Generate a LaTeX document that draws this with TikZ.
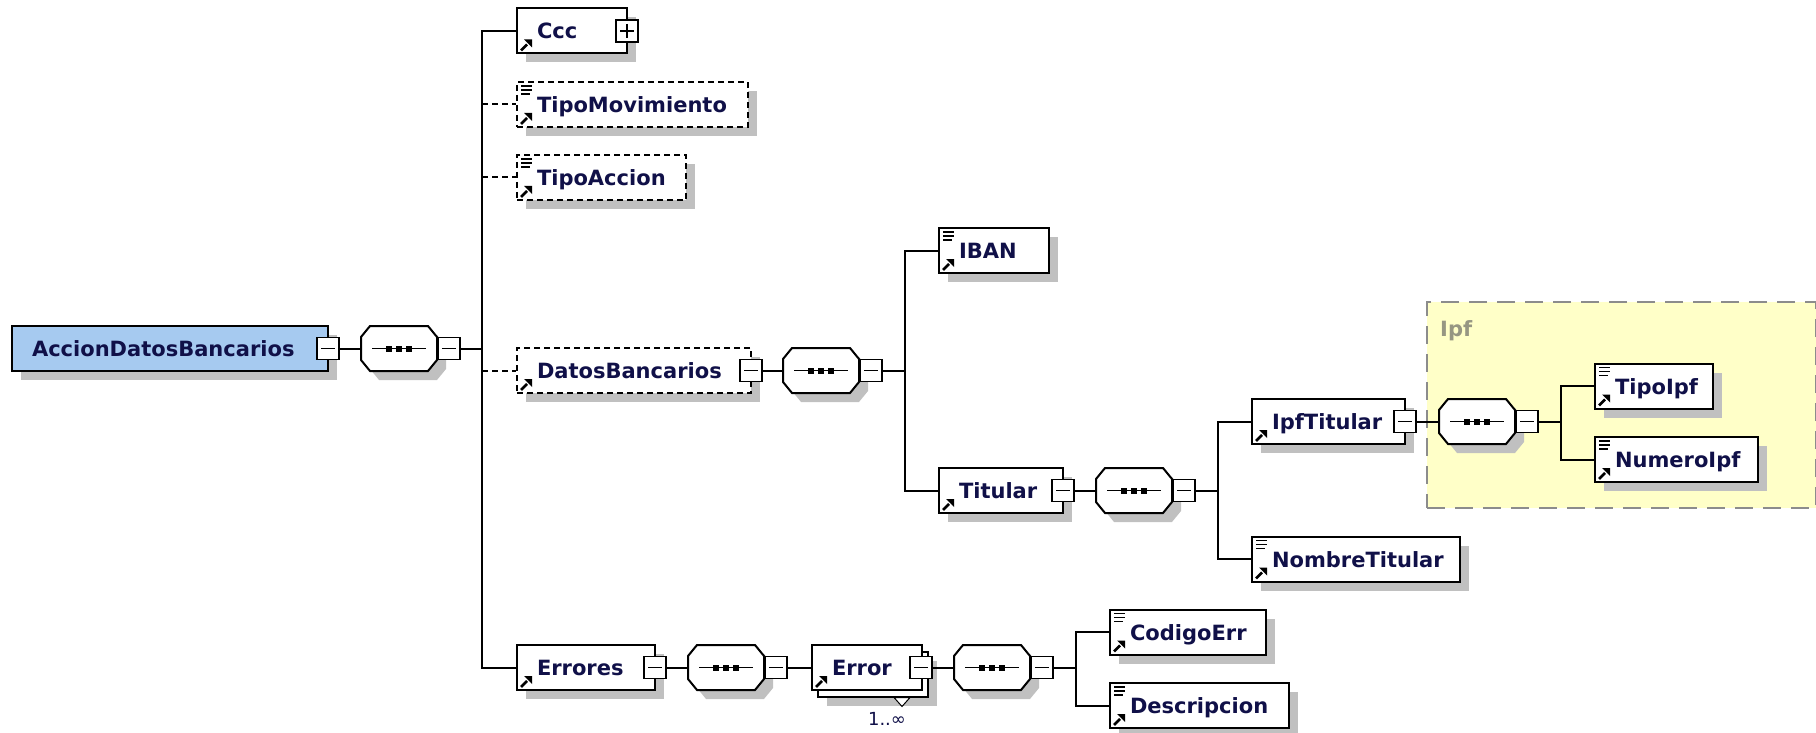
\documentclass[tikz,border=0pt]{standalone}
\usepackage{fontspec}
\setmainfont{DejaVu Sans}
\usetikzlibrary{positioning,shadows}

\definecolor{textc}{RGB}{16,16,72}
\definecolor{shadowc}{RGB}{192,192,192}
\definecolor{rootc}{RGB}{166,202,240}
\definecolor{grpfill}{RGB}{255,255,200}
\definecolor{grpline}{RGB}{140,140,140}
\definecolor{grptext}{RGB}{150,150,130}

\newcommand\elemfont{\fontsize{21pt}{25pt}\selectfont\bfseries}
\newcommand\refarrow{%
  \draw[solid, black, line width=2.6pt] ([shift={(4pt,3pt)}]path picture bounding box.south west) -- ([shift={(10pt,9pt)}]path picture bounding box.south west);
  \fill[black] ([shift={(15pt,14pt)}]path picture bounding box.south west) -- ([shift={(7pt,14pt)}]path picture bounding box.south west) -- ([shift={(15pt,6pt)}]path picture bounding box.south west) -- cycle;}
\newcommand\leaflines{%
  \draw[solid, black, line width=1.3pt] ([shift={(4pt,-4pt)}]path picture bounding box.north west) -- ++(11pt,0pt)
    ([shift={(4pt,-8pt)}]path picture bounding box.north west) -- ++(11pt,0pt)
    ([shift={(4pt,-12pt)}]path picture bounding box.north west) -- ++(9pt,0pt);}
\newcommand\minusbar{\draw[solid, black, line width=1.5pt] ([xshift=4pt]path picture bounding box.west) -- ([xshift=-4pt]path picture bounding box.east);}
\newcommand\plusbar{\draw[solid, black, line width=1.5pt] ([yshift=-4pt]path picture bounding box.north) -- ([yshift=4pt]path picture bounding box.south);}
% octagon of a sequence compositor, drawn on an empty node
\newcommand\octagon[1]{([xshift=9pt]#1.north west) -- ([xshift=-9pt]#1.north east) -- ([yshift=-11pt]#1.north east) -- ([yshift=11pt]#1.south east) -- ([xshift=-9pt]#1.south east) -- ([xshift=9pt]#1.south west) -- ([yshift=11pt]#1.south west) -- ([yshift=-11pt]#1.north west) -- cycle}
\newcommand\seqdraw[1]{%
  \fill[shadowc, transform canvas={shift={(9pt,-9pt)}}] \octagon{#1};
  \draw[line width=2pt, fill=white] \octagon{#1};
  \draw[line width=1.6pt] ([xshift=11pt]#1.west) -- ([xshift=-11pt]#1.east);
  \fill ([xshift=-10pt]#1.center) +(-3pt,-3pt) rectangle +(3pt,3pt);
  \fill (#1.center) +(-3pt,-3pt) rectangle +(3pt,3pt);
  \fill ([xshift=10pt]#1.center) +(-3pt,-3pt) rectangle +(3pt,3pt);}
\hyphenpenalty=10000

\tikzset{
  box/.style={draw, line width=2pt, fill=white, text=textc, font=\elemfont, minimum height=45pt, inner xsep=20pt, inner ysep=0pt, text height=16pt, text depth=0pt, align=left, anchor=west},
  shadowed/.style={general shadow={fill=shadowc, shadow xshift=9pt, shadow yshift=-9pt}},
  elem/.style={box, shadowed},
  opt/.style={dash pattern=on 6pt off 4pt},
  ref/.style={path picture={\refarrow}},
  leaf/.style={path picture={\refarrow\leaflines}},
  minus/.style={draw, fill=white, line width=1.8pt, minimum size=22pt, inner sep=0pt, path picture={\minusbar}},
  plus/.style={draw, fill=white, line width=1.8pt, minimum size=22pt, inner sep=0pt, path picture={\minusbar\plusbar}},
  seq/.style={rectangle, minimum width=76pt, minimum height=45pt, inner sep=0pt, outer sep=0pt, anchor=west},
  wire/.style={line width=2pt},
  optwire/.style={wire, dash pattern=on 6pt off 4pt},
  grpbox/.style={draw=grpline, fill=grpfill, line width=2pt, dash pattern=on 18pt off 10pt, inner sep=0pt},
  grplabel/.style={text=grptext, font=\elemfont, anchor=west, inner sep=0pt},
  card/.style={text=textc, font=\fontsize{18pt}{22pt}\selectfont, inner sep=0pt}
}

\begin{document}
\begin{tikzpicture}[x=1pt,y=-1pt]
\useasboundingbox (0,0) rectangle (1816,733);

% Ipf group
\node[grpbox, minimum width=389pt, minimum height=206pt] (ipfgrp) at (1621.5,405) {};
\node[grplabel] (ipflbl) at (1440,331) {Ipf};

% root
\node[elem, fill=rootc, text width=276pt] (root) at (11,348.5) {AccionDatosBancarios};
\node[minus] (root-m) at ([xshift=-1pt]root.east) {};
\node[seq] (seq1) at (361,348.5) {};
\seqdraw{seq1}
\node[minus, right=0pt of seq1] (seq1-m) {};
\coordinate (trunk1) at (482,348.5);

% first level
\node[elem, ref, text width=70pt] (ccc) at (516,31) {Ccc};
\node[plus] (ccc-p) at ([xshift=-1pt]ccc.east) {};
\node[elem, leaf, opt, text width=191pt] (tipomov) at (516,104.5) {TipoMovimiento};
\node[elem, leaf, opt, text width=129pt] (tipoacc) at (516,177.5) {TipoAccion};
\node[elem, ref, opt, text width=194pt] (datos) at (516,370.5) {DatosBancarios};
\node[minus] (datos-m) at ([xshift=-1pt]datos.east) {};
\node[elem, ref, text width=98pt] (errores) at (516,667.5) {Errores};
\node[minus] (errores-m) at ([xshift=-1pt]errores.east) {};

% DatosBancarios
\node[seq] (seq2) at (783,370.5) {};
\seqdraw{seq2}
\node[minus, right=0pt of seq2] (seq2-m) {};
\coordinate (trunk2) at (905,370.5);
\node[elem, leaf, text width=70pt] (iban) at (938,250.5) {IBAN};
\node[elem, ref, text width=84pt] (titular) at (938,490.5) {Titular};
\node[minus] (titular-m) at ([xshift=-1pt]titular.east) {};

% Titular
\node[seq] (seq3) at (1096,490.5) {};
\seqdraw{seq3}
\node[minus, right=0pt of seq3] (seq3-m) {};
\coordinate (trunk3) at (1218,490.5);
\node[elem, ref, text width=113pt] (ipftit) at (1251,421.5) {IpfTitular};
\node[minus] (ipftit-m) at ([xshift=-1pt]ipftit.east) {};
\node[elem, leaf, text width=168pt] (nombre) at (1251,559) {NombreTitular};

% IpfTitular
\node[seq] (seq4) at (1439,421.5) {};
\seqdraw{seq4}
\node[minus, right=0pt of seq4] (seq4-m) {};
\coordinate (trunk4) at (1561,421.5);
\node[elem, leaf, text width=78pt] (tipoipf) at (1594,386) {TipoIpf};
\node[elem, leaf, text width=123pt] (numipf) at (1594,459.5) {NumeroIpf};

% Errores
\node[seq] (seq5) at (688,667.5) {};
\seqdraw{seq5}
\node[minus, right=0pt of seq5] (seq5-m) {};
\node[elem, minimum width=110pt] (error-bk) at (817,674) {};
\node[box, ref, text width=70pt] (error) at (811,667.5) {Error};
\node[minus] (error-m) at ([xshift=-2pt]error.east) {};
\draw[line width=1pt, fill=white] ([xshift=-35pt]error-bk.south east) -- ([xshift=-19pt]error-bk.south east) -- ([shift={(-27pt,-9pt)}]error-bk.south east) -- cycle;
\node[card] (error-card) at (887,719) {1..∞};

% Error
\node[seq] (seq6) at (954,667.5) {};
\seqdraw{seq6}
\node[minus, right=0pt of seq6] (seq6-m) {};
\coordinate (trunk5) at (1076,667.5);
\node[elem, leaf, text width=116pt] (codigo) at (1109,632) {CodigoErr};
\node[elem, leaf, text width=139pt] (descr) at (1109,705.5) {Descripcion};

% connectors
\draw[wire] (root-m) -- (seq1);
\draw[wire] (seq1-m) -- (trunk1);
\draw[wire] (trunk1) |- (ccc);
\draw[wire] (trunk1) |- (errores);
\draw[optwire] (trunk1 |- tipomov) -- (tipomov);
\draw[optwire] (trunk1 |- tipoacc) -- (tipoacc);
\draw[optwire] (trunk1 |- datos) -- (datos);
\draw[wire] (datos-m) -- (seq2);
\draw[wire] (seq2-m) -- (trunk2);
\draw[wire] (trunk2) |- (iban);
\draw[wire] (trunk2) |- (titular);
\draw[wire] (titular-m) -- (seq3);
\draw[wire] (seq3-m) -- (trunk3);
\draw[wire] (trunk3) |- (ipftit);
\draw[wire] (trunk3) |- (nombre);
\draw[wire] (ipftit-m) -- (seq4);
\draw[wire] (seq4-m) -- (trunk4);
\draw[wire] (trunk4) |- (tipoipf);
\draw[wire] (trunk4) |- (numipf);
\draw[wire] (errores-m) -- (seq5);
\draw[wire] (seq5-m) -- (error);
\draw[wire] (error-m) -- (seq6);
\draw[wire] (seq6-m) -- (trunk5);
\draw[wire] (trunk5) |- (codigo);
\draw[wire] (trunk5) |- (descr);
\end{tikzpicture}
\end{document}
